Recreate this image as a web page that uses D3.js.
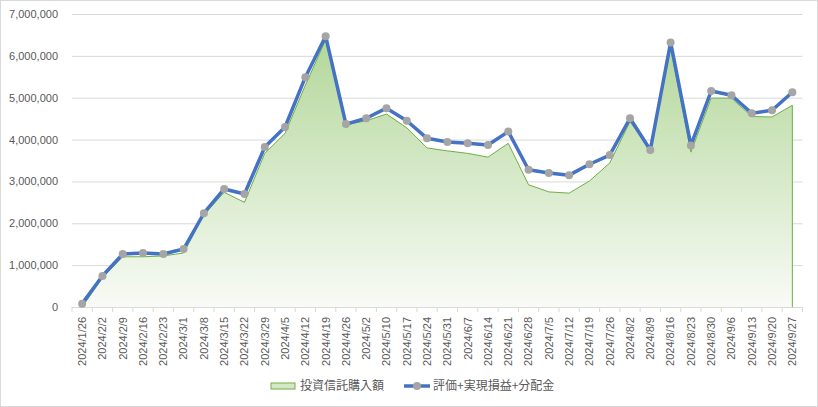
<!DOCTYPE html>
<html><head><meta charset="utf-8">
<script src="https://cdn.jsdelivr.net/npm/d3@7"></script>
<style>
html,body{margin:0;padding:0;background:#fff;}
svg{display:block;font-family:"Noto Sans CJK JP","Liberation Sans",Arial,sans-serif;}
</style></head>
<body><svg id="c" width="818" height="407"></svg>
<script>
const categories = ["2024/1/26","2024/2/2","2024/2/9","2024/2/16","2024/2/23","2024/3/1","2024/3/8","2024/3/15","2024/3/22","2024/3/29","2024/4/5","2024/4/12","2024/4/19","2024/4/26","2024/5/2","2024/5/10","2024/5/17","2024/5/24","2024/5/31","2024/6/7","2024/6/14","2024/6/21","2024/6/28","2024/7/5","2024/7/12","2024/7/19","2024/7/26","2024/8/2","2024/8/9","2024/8/16","2024/8/23","2024/8/30","2024/9/6","2024/9/13","2024/9/20","2024/9/27"];
const purchase = [0,700000,1200000,1200000,1220000,1290000,2200000,2740000,2500000,3670000,4150000,5300000,6380000,4350000,4450000,4610000,4280000,3800000,3730000,3670000,3580000,3910000,2920000,2750000,2720000,3010000,3440000,4430000,3740000,6200000,3700000,4990000,4990000,4550000,4540000,4820000];
const valuation = [80000,740000,1265000,1290000,1265000,1385000,2240000,2820000,2700000,3820000,4300000,5490000,6470000,4370000,4510000,4750000,4450000,4030000,3940000,3910000,3870000,4190000,3280000,3200000,3150000,3410000,3630000,4510000,3750000,6320000,3860000,5160000,5060000,4630000,4700000,5130000];
const yTicks = [0,1000000,2000000,3000000,4000000,5000000,6000000,7000000];
const seriesNames = ["投資信託購入額","評価+実現損益+分配金"];

const svg = d3.select("#c");
const W = 818, H = 407;
const m = {l:72, r:15.5, t:14, b:100};
svg.append("rect").attr("x",0.5).attr("y",0.5).attr("width",W-1).attr("height",H-1).attr("fill","#fff").attr("stroke","#d9d9d9");

const x = d3.scaleBand().domain(categories).range([m.l, W-m.r]).padding(0);
const y = d3.scaleLinear().domain([0,7000000]).range([H-m.b, m.t]);
const cx = d => x(d) + x.bandwidth()/2;

// gridlines
const yAxis = d3.axisLeft(y).tickValues(yTicks).tickSize(-(W-m.r-m.l)).tickPadding(14)
  .tickFormat(d3.format(","));
const gy = svg.append("g").attr("transform",`translate(${m.l},0)`).call(yAxis);
gy.select(".domain").remove();
gy.selectAll(".tick line").attr("stroke","#d9d9d9");
gy.selectAll(".tick text").attr("fill","#595959").style("font-size","11px").style("font-family","'Liberation Sans',Arial,sans-serif");

// gradient
const defs = svg.append("defs");
const grad = defs.append("linearGradient").attr("id","g1").attr("gradientUnits","userSpaceOnUse")
  .attr("x1",0).attr("x2",0).attr("y1",y(6500000)).attr("y2",y(0));
grad.append("stop").attr("offset","0%").attr("stop-color","#b2d698");
grad.append("stop").attr("offset","100%").attr("stop-color","#f8fbf6");

const pts = categories.map((c,i)=>({c, p:purchase[i], v:valuation[i]}));
const area = d3.area().x(d=>cx(d.c)).y0(y(0)).y1(d=>y(d.p));
svg.append("path").datum(pts).attr("d",area).attr("fill","url(#g1)");
const last = pts[pts.length-1];
svg.append("path").datum(pts).attr("d", d3.line().x(d=>cx(d.c)).y(d=>y(d.p))(pts) + `L${cx(last.c)},${y(0)}`)
  .attr("fill","none").attr("stroke","#70ad47").attr("stroke-width",1);

// x axis
const xAxis = d3.axisBottom(x).tickSize(0).tickPadding(0);
const gx = svg.append("g").attr("transform",`translate(0,${y(0)})`).call(xAxis);
gx.select(".domain").attr("stroke","#d9d9d9");
gx.selectAll(".tick text").attr("fill","#595959").style("font-size","11px")
  .style("font-family","'Liberation Sans',Arial,sans-serif")
  .attr("transform","rotate(-90)").attr("text-anchor","end").attr("x",-10).attr("y",0).attr("dy","0.35em");
// boundary ticks
const bounds = categories.map(c=>x(c)).concat([W-m.r]);
gx.selectAll(".btick").data(bounds).join("line").attr("class","btick")
  .attr("x1",d=>d).attr("x2",d=>d).attr("y1",0).attr("y2",5).attr("stroke","#d9d9d9");

// line
const line = d3.line().x(d=>cx(d.c)).y(d=>y(d.v));
svg.append("path").datum(pts).attr("d",line).attr("fill","none").attr("stroke","#4472c4").attr("stroke-width",3.5).attr("stroke-linejoin","round");
svg.selectAll(".pt").data(pts).join("circle").attr("class","pt")
  .attr("cx",d=>cx(d.c)).attr("cy",d=>y(d.v)).attr("r",4).attr("fill","#a5a5a5");

// legend
const lg = svg.append("g").attr("transform","translate(0,386)");
lg.append("rect").attr("x",271).attr("y",-3).attr("width",24).attr("height",6).attr("fill","#d4e8c5").attr("stroke","#70ad47");
lg.append("text").attr("x",300).attr("y",0).attr("dy","0.35em").attr("fill","#595959").style("font-size","12px").text(seriesNames[0]);
lg.append("line").attr("x1",404).attr("x2",430).attr("y1",0).attr("y2",0).attr("stroke","#4472c4").attr("stroke-width",3.5);
lg.append("circle").attr("cx",417).attr("cy",0).attr("r",4).attr("fill","#a5a5a5");
lg.append("text").attr("x",433).attr("y",0).attr("dy","0.35em").attr("fill","#595959").style("font-size","12px").text(seriesNames[1]);
</script></body></html>
